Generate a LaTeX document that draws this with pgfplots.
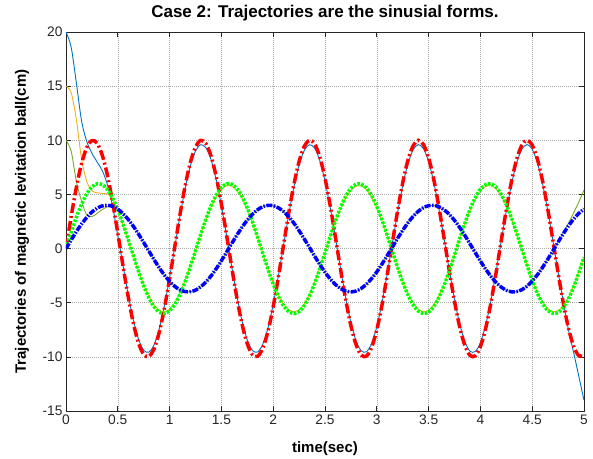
\documentclass[border=0pt]{standalone}
\usepackage{fontspec}
\setmainfont{Liberation Sans}
\usepackage{pgfplots}
\pgfplotsset{compat=1.18}
\usepackage{pgfplotstable}

\definecolor{mblue}{rgb}{0,0.447,0.741}
\definecolor{morange}{rgb}{0.929,0.694,0.125}
\definecolor{molive}{rgb}{0.466,0.674,0.188}
\definecolor{gridgray}{rgb}{0.66,0.66,0.66}

% t, references (r g b), actual thin outputs (rt gt bt)
\pgfplotstableread{
t r g b rt gt bt
0.00 0 0 0 20 15 10
0.05 2.96 1.48 0.79 18.6 14.4 9.0
0.10 5.65 2.88 1.56 15.3 11.9 6.2
0.15 7.83 4.09 2.26 11.8 8.3 4.4
0.20 9.32 5.05 2.87 9.9 6.2 3.1
0.25 9.97 5.69 3.37 8.8 5.35 2.95
0.30 9.74 5.99 3.73 8.0 5.15 3.25
0.35 8.63 5.90 3.94 7.2 5.1 3.6
0.40 6.76 5.46 4.00 5.9 5.05 3.85
0.45 4.27 4.67 3.90 3.9 4.6 3.85
0.50 1.41 3.59 3.64 1.2 3.55 3.62
0.55 -1.58 2.29 3.23 -1.52 2.22 3.23
0.60 -4.43 0.85 2.70 -4.25 0.82 2.70
0.65 -6.88 -0.65 2.06 -6.60 -0.63 2.06
0.70 -8.72 -2.10 1.34 -8.37 -2.04 1.34
0.75 -9.78 -3.43 0.56 -9.39 -3.33 0.56
0.80 -9.96 -4.54 -0.23 -9.56 -4.40 -0.23
0.85 -9.26 -5.37 -1.02 -8.89 -5.21 -1.02
0.90 -7.73 -5.87 -1.77 -7.42 -5.69 -1.77
0.95 -5.51 -6.00 -2.45 -5.29 -5.82 -2.45
1.00 -2.79 -5.75 -3.03 -2.68 -5.58 -3.03
1.05 0.17 -5.15 -3.49 0.16 -5.00 -3.49
1.10 3.12 -4.23 -3.81 3.00 -4.10 -3.81
1.15 5.78 -3.05 -3.97 5.55 -2.96 -3.97
1.20 7.94 -1.68 -3.98 7.62 -1.63 -3.98
1.25 9.38 -0.20 -3.84 9.00 -0.19 -3.84
1.30 9.99 1.29 -3.53 9.59 1.25 -3.53
1.35 9.70 2.70 -3.09 9.31 2.62 -3.09
1.40 8.55 3.94 -2.53 8.21 3.82 -2.53
1.45 6.63 4.94 -1.86 6.36 4.79 -1.86
1.50 4.12 5.63 -1.12 3.96 5.46 -1.12
1.55 1.25 5.97 -0.33 1.20 5.79 -0.33
1.60 -1.74 5.94 0.47 -1.67 5.76 0.47
1.65 -4.58 5.53 1.25 -4.40 5.36 1.25
1.70 -7.00 4.79 1.98 -6.72 4.65 1.98
1.75 -8.80 3.75 2.63 -8.45 3.64 2.63
1.80 -9.81 2.47 3.17 -9.42 2.40 3.17
1.85 -9.95 1.04 3.59 -9.55 1.01 3.59
1.90 -9.19 -0.45 3.87 -8.82 -0.44 3.87
1.95 -7.62 -1.92 3.99 -7.32 -1.86 3.99
2.00 -5.37 -3.26 3.96 -5.16 -3.16 3.96
2.05 -2.63 -4.41 3.76 -2.52 -4.28 3.76
2.10 0.34 -5.28 3.42 0.33 -5.12 3.42
2.15 3.28 -5.82 2.94 3.15 -5.65 2.94
2.20 5.92 -6.00 2.34 5.68 -5.82 2.34
2.25 8.04 -5.81 1.65 7.72 -5.64 1.65
2.30 9.44 -5.25 0.89 9.06 -5.09 0.89
2.35 9.99 -4.37 0.10 9.59 -4.24 0.10
2.40 9.66 -3.22 -0.70 9.27 -3.12 -0.70
2.45 8.46 -1.87 -1.47 8.12 -1.81 -1.47
2.50 6.50 -0.40 -2.18 6.24 -0.39 -2.18
2.55 3.97 1.10 -2.80 3.81 1.07 -2.80
2.60 1.08 2.52 -3.31 1.04 2.44 -3.31
2.65 -1.91 3.79 -3.69 -1.83 3.68 -3.69
2.70 -4.72 4.82 -3.92 -4.53 4.68 -3.92
2.75 -7.12 5.56 -4.00 -6.84 5.39 -4.00
2.80 -8.88 5.94 -3.92 -8.52 5.76 -3.92
2.85 -9.84 5.96 -3.68 -9.45 5.78 -3.68
2.90 -9.93 5.61 -3.29 -9.53 5.44 -3.29
2.95 -9.13 4.91 -2.77 -8.76 4.76 -2.77
3.00 -7.51 3.90 -2.15 -7.21 3.78 -2.15
3.05 -5.22 2.65 -1.43 -5.01 2.57 -1.43
3.10 -2.47 1.24 -0.66 -2.37 1.20 -0.66
3.15 0.50 -0.25 0.13 0.48 -0.24 0.13
3.20 3.43 -1.73 0.93 3.29 -1.68 0.93
3.25 6.06 -3.10 1.68 5.82 -3.01 1.68
3.30 8.14 -4.27 2.37 7.81 -4.14 2.37
3.35 9.49 -5.19 2.96 9.11 -5.03 2.96
3.40 10.00 -5.77 3.44 9.60 -5.60 3.44
3.45 9.61 -6.00 3.77 9.23 -5.82 3.77
3.50 8.37 -5.87 3.96 8.04 -5.69 3.96
3.55 6.37 -5.35 3.99 6.12 -5.19 3.99
3.60 3.81 -4.51 3.86 3.66 -4.37 3.86
3.65 0.91 -3.39 3.58 0.87 -3.29 3.58
3.70 -2.07 -2.06 3.15 -1.99 -2.00 3.15
3.75 -4.87 -0.60 2.60 -4.68 -0.58 2.60
3.80 -7.24 0.90 1.95 -6.95 0.87 1.95
3.85 -8.95 2.34 1.21 -8.59 2.27 1.21
3.90 -9.87 3.63 0.43 -9.48 3.52 0.43
3.95 -9.91 4.70 -0.37 -9.51 4.56 -0.37
4.00 -9.06 5.48 -1.15 -8.70 5.32 -1.15
4.05 -7.40 5.91 -1.89 -7.10 5.73 -1.89
4.10 -5.08 5.98 -2.55 -4.88 5.80 -2.55
4.15 -2.31 5.68 -3.11 -2.22 5.51 -3.11
4.20 0.67 5.02 -3.55 0.64 4.87 -3.55
4.25 3.59 4.05 -3.85 3.45 3.93 -3.85
4.30 6.19 2.83 -3.99 5.94 2.75 -3.99
4.35 8.24 1.43 -3.97 7.91 1.39 -3.97
4.40 9.54 -0.05 -3.80 9.16 -0.05 -3.80
4.45 10.00 -1.54 -3.47 9.60 -1.49 -3.47
4.50 9.56 -2.92 -3.00 9.18 -2.83 -3.00
4.55 8.27 -4.13 -2.42 7.94 -4.01 -2.42
4.60 6.24 -5.08 -1.74 5.99 -4.93 -1.74
4.65 3.66 -5.71 -0.99 3.51 -5.54 -0.99
4.70 0.74 -5.99 -0.20 0.71 -5.81 -0.20
4.75 -2.24 -5.91 0.60 -2.15 -5.73 0.60
4.80 -5.02 -5.43 1.37 -4.90 -5.27 1.45
4.85 -7.35 -4.63 2.09 -7.50 -4.49 2.35
4.90 -9.02 -3.55 2.73 -9.60 -3.44 3.30
4.95 -9.90 -2.24 3.25 -11.80 -2.17 4.30
5.00 -9.88 -0.79 3.65 -14.00 -0.77 5.40
}\traj

\begin{document}
\begin{tikzpicture}
\begin{axis}[
  scale only axis, width=518pt, height=379pt,
  xmin=0, xmax=5, ymin=-15, ymax=20,
  xtick={0,0.5,1,1.5,2,2.5,3,3.5,4,4.5,5},
  ytick={-15,-10,-5,0,5,10,15,20},
  grid=major,
  major grid style={gridgray, line width=0.5pt, dash pattern=on 1pt off 1pt},
  tick align=inside, xtick pos=both, ytick pos=both, major tick length=5pt,
  axis line style={black!85, line width=0.7pt},
  tick style={black!85, line width=0.7pt},
  tick label style={font=\fontsize{13.8}{15}\selectfont, text=black!85},
  /pgf/number format/assume math mode=true,
  title={Case 2: Trajectories are the sinusial forms.},
  title style={font=\bfseries\fontsize{17}{19}\selectfont, at={(axis description cs:0.5,1.033)}, anchor=center, yshift=0pt},
  xlabel={time(sec)},
  ylabel={Trajectories of magnetic levitation ball(cm)},
  label style={font=\bfseries\fontsize{15}{17}\selectfont},
  xlabel style={at={(axis description cs:0.5,-0.1)}, anchor=center},
  ylabel style={at={(axis description cs:-0.085,0.5)}, anchor=center},
]
% actual outputs, thin
\addplot[mblue, line width=0.9pt, smooth] table[x=t, y=rt] {\traj};
\addplot[morange, line width=0.9pt, smooth] table[x=t, y=gt] {\traj};
\addplot[molive, line width=0.9pt, smooth] table[x=t, y=bt] {\traj};
% references, thick
\addplot[red, line width=3.5pt, smooth, dash pattern=on 10pt off 3pt on 2pt off 3pt] table[x=t, y=r] {\traj};
\addplot[green, line width=3.5pt, smooth, dash pattern=on 2.5pt off 1.5pt] table[x=t, y=g] {\traj};
\addplot[blue, line width=3.5pt, smooth, dash pattern=on 6pt off 1.5pt on 1.5pt off 1.5pt] table[x=t, y=b] {\traj};
\end{axis}
\pgfresetboundingbox
\path[use as bounding box] ([shift={(-66pt,-48pt)}]current axis.south west) rectangle ([shift={(9pt,32pt)}]current axis.north east);
\end{tikzpicture}
\end{document}
